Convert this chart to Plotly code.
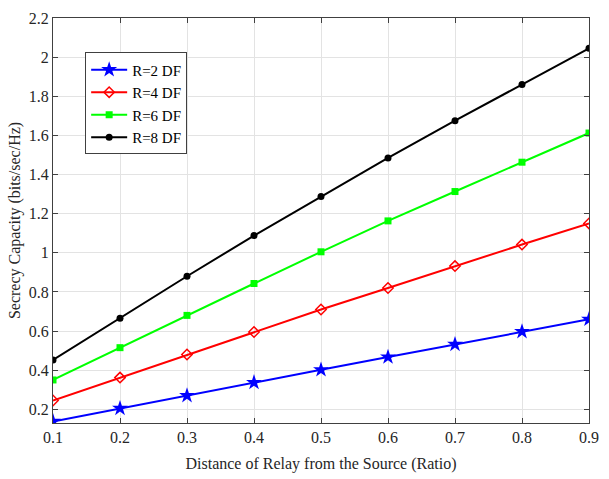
import plotly.graph_objects as go

x = [0.1, 0.2, 0.3, 0.4, 0.5, 0.6, 0.7, 0.8, 0.9]
r2 = [0.138, 0.205, 0.270, 0.337, 0.402, 0.467, 0.532, 0.597, 0.660]
r4 = [0.245, 0.362, 0.480, 0.595, 0.710, 0.820, 0.932, 1.042, 1.150]
r6 = [0.350, 0.515, 0.680, 0.843, 1.005, 1.163, 1.313, 1.463, 1.612]
r8 = [0.452, 0.665, 0.880, 1.088, 1.288, 1.485, 1.675, 1.860, 2.045]
names = ["R=2 DF", "R=4 DF", "R=6 DF", "R=8 DF"]
colors = ["#0000ff", "#ff0000", "#00ff00", "#000000"]
symbols = ["star", "diamond-open", "square", "circle"]
sizes = [12, 8, 7, 7]

fig = go.Figure()
for ys, n, c, s, sz in zip([r2, r4, r6, r8], names, colors, symbols, sizes):
    fig.add_trace(go.Scatter(
        x=x, y=ys, name=n, mode="lines+markers",
        line=dict(color=c, width=2),
        marker=dict(symbol=s, size=sz, color=c, line=dict(color=c, width=1.5 if s == "diamond-open" else 0)),
    ))

font = "Liberation Serif, Times New Roman, serif"
axis_common = dict(
    showgrid=True, gridcolor="#e3e3e3", gridwidth=1,
    showline=True, linecolor="#404040", linewidth=1, mirror="ticks",
    ticks="inside", ticklen=5, tickcolor="#404040",
    zeroline=False, tickfont=dict(family=font, size=16, color="#262626"),
)
fig.update_layout(
    width=609, height=479,
    margin=dict(l=53, r=10, t=10, b=56),
    paper_bgcolor="white", plot_bgcolor="white",
    font=dict(family=font, color="#262626"),
    xaxis=dict(range=[0.1, 0.9], tickvals=x, ticktext=[str(v) for v in x],
               title=dict(text="Distance of Relay from the Source (Ratio)", font=dict(size=16), standoff=12),
               **axis_common),
    yaxis=dict(range=[0.13, 2.2], tickvals=[0.2, 0.4, 0.6, 0.8, 1.0, 1.2, 1.4, 1.6, 1.8, 2.0, 2.2],
               ticktext=["0.2", "0.4", "0.6", "0.8", "1", "1.2", "1.4", "1.6", "1.8", "2", "2.2"],
               title=dict(text="Secrecy Capacity (bits/sec/Hz)", font=dict(size=16), standoff=4),
               **axis_common),
    legend=dict(x=0.06, y=0.915, xanchor="left", yanchor="top",
                bgcolor="white", bordercolor="#404040", borderwidth=1,
                font=dict(family=font, size=15, color="#000000"),
                tracegroupgap=0, itemwidth=36),
    showlegend=True,
)
fig.write_html("out.html")
